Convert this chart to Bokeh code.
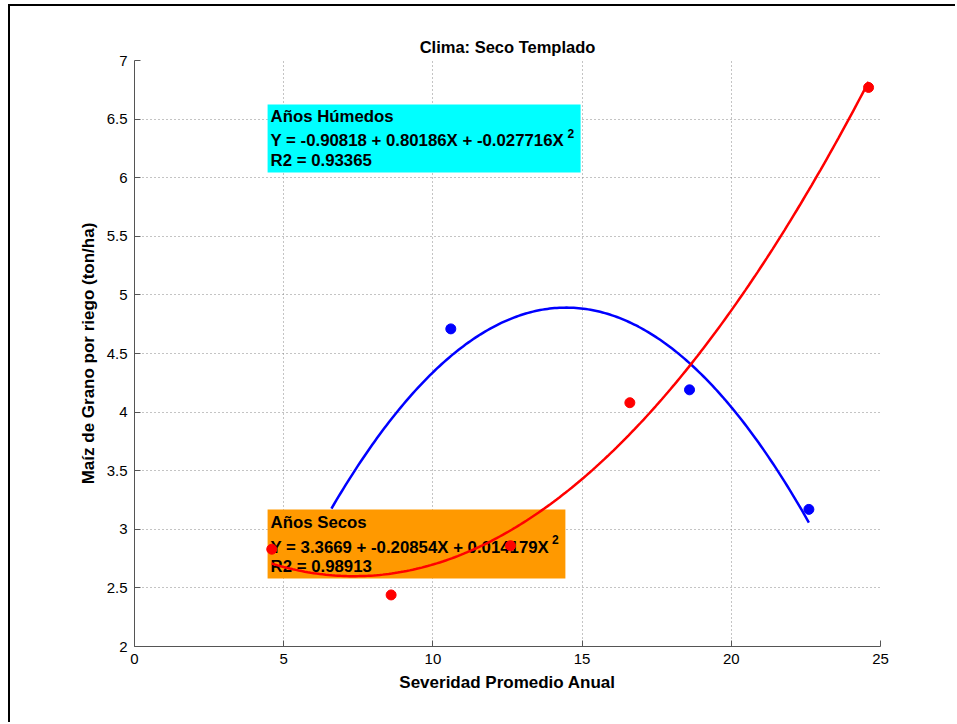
import numpy as np
from bokeh.plotting import figure
from bokeh.models import Range1d, FixedTicker, CustomJSTickFormatter
from bokeh.core.properties import value
from bokeh.embed import file_html
from bokeh.resources import INLINE

# ---- data ----
title_text = "Clima: Seco Templado"
x_label = "Severidad Promedio Anual"
y_label = "Maíz de Grano por riego (ton/ha)"

x_ticks = [0, 5, 10, 15, 20, 25]
y_ticks = [2, 2.5, 3, 3.5, 4, 4.5, 5, 5.5, 6, 6.5, 7]

# humid years (blue)
hum_x = [6.6, 10.6, 18.6, 22.6]
hum_y = [2.95, 4.71, 4.19, 3.17]
hum_coef = [-0.90818, 0.80186, -0.027716]   # a + bX + cX^2
hum_r2 = 0.93365

# dry years (red)
dry_x = [4.6, 8.6, 12.6, 16.6, 24.6]
dry_y = [2.83, 2.44, 2.86, 4.08, 6.77]
dry_coef = [3.3669, -0.20854, 0.014179]
dry_r2 = 0.98913

FONT = "Liberation Sans"

p = figure(width=947, height=718, x_range=Range1d(0, 25), y_range=Range1d(2, 7),
           output_backend="svg", toolbar_location=None,
           min_border_left=124, min_border_right=77, min_border_top=54, min_border_bottom=78,
           title=title_text, margin=(4, 0, 0, 8))
p.styles = {"border-left": "2px solid black", "border-top": "2px solid black"}
p.outline_line_color = None
p.background_fill_color = "white"
p.border_fill_color = "white"

p.title.align = "center"
p.title.text_font = FONT
p.title.text_font_size = "16.5px"
p.title.text_font_style = "bold"
p.title.text_color = "black"

fmt = CustomJSTickFormatter(code="return String(tick);")
for ax, ticks in ((p.xaxis[0], x_ticks), (p.yaxis[0], y_ticks)):
    ax.ticker = FixedTicker(ticks=ticks)
    ax.formatter = fmt
    ax.major_label_text_font = FONT
    ax.major_label_text_font_size = "15px"
    ax.major_label_text_color = "black"
    ax.axis_label_text_font = FONT
    ax.axis_label_text_font_size = "17px"
    ax.axis_label_text_font_style = "bold"
    ax.axis_label_text_color = "black"
    ax.axis_line_color = "#555555"
    ax.major_tick_line_color = "#555555"
    ax.major_tick_in = 6
    ax.major_tick_out = 0
    ax.minor_tick_line_color = None
    ax.major_label_standoff = 7
    ax.axis_label_standoff = 6
p.xaxis.axis_label = x_label
p.yaxis.axis_label = y_label

for g in (p.xgrid[0], p.ygrid[0]):
    g.grid_line_color = "#888888"
    g.grid_line_dash = "1 3"
    g.grid_line_width = 1

# blue fit + points
xs_h = np.linspace(min(hum_x), max(hum_x), 200)
p.line(xs_h, np.polyval(hum_coef[::-1], xs_h), line_color="blue", line_width=2.5)
p.scatter(hum_x, hum_y, size=10, color="blue")

TS = "16.8px"

# annotation boxes
def box(left, right, bottom, top, color, lines, ys, sup_x, sup_y):
    p.quad(left=[left], right=[right], bottom=[bottom], top=[top],
           fill_color=color, line_color=None)
    p.text(x=[left + 0.1] * len(lines), y=ys, text=lines,
           text_font=value(FONT), text_font_size=TS, text_font_style="bold",
           text_baseline="middle", text_color="black")
    p.text(x=[sup_x], y=[sup_y], text=["2"],
           text_font=value(FONT), text_font_size="12px", text_font_style="bold",
           text_baseline="middle", text_color="black")

def eq(c):
    return f"Y = {c[0]:g} + {c[1]:g}X + {c[2]:g}X"

box(4.46, 14.95, 6.044, 6.625, "#00FFFF",
    ["Años Húmedos", eq(hum_coef), f"R2 = {hum_r2:g}"], [6.522, 6.317, 6.147],
    14.51, 6.377)
box(4.46, 14.44, 2.58, 3.169, "#FF9900",
    ["Años Secos", eq(dry_coef), f"R2 = {dry_r2:g}"], [3.058, 2.843, 2.681],
    13.99, 2.913)

# red fit + points
xs_d = np.linspace(min(dry_x), max(dry_x), 200)
p.line(xs_d, np.polyval(dry_coef[::-1], xs_d), line_color="red", line_width=2.5)
p.scatter(dry_x, dry_y, size=10, color="red")

open("out.html", "w").write(file_html(p, INLINE))
